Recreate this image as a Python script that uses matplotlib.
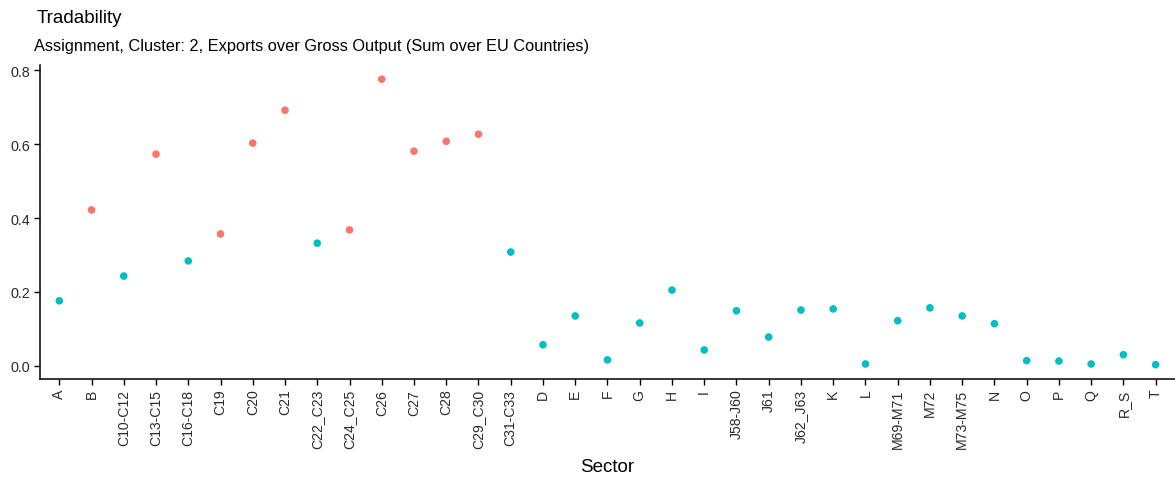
import matplotlib
matplotlib.use("Agg")
import matplotlib.pyplot as plt

plt.rcParams['font.family'] = ['Liberation Sans', 'DejaVu Sans']

sectors = ["A", "B", "C10-C12", "C13-C15", "C16-C18", "C19", "C20", "C21",
           "C22_C23", "C24_C25", "C26", "C27", "C28", "C29_C30", "C31-C33",
           "D", "E", "F", "G", "H", "I", "J58-J60", "J61", "J62_J63", "K", "L",
           "M69-M71", "M72", "M73-M75", "N", "O", "P", "Q", "R_S", "T"]
tradability = [0.176, 0.422, 0.243, 0.573, 0.284, 0.357, 0.603, 0.692,
               0.332, 0.368, 0.776, 0.581, 0.608, 0.627, 0.308,
               0.057, 0.135, 0.016, 0.116, 0.205, 0.043, 0.149, 0.078, 0.151,
               0.154, 0.005, 0.122, 0.157, 0.135, 0.114, 0.014, 0.013, 0.005,
               0.030, 0.003]
cluster = [2, 1, 2, 1, 2, 1, 1, 1, 2, 1, 1, 1, 1, 1, 2,
           2, 2, 2, 2, 2, 2, 2, 2, 2, 2, 2, 2, 2, 2, 2, 2, 2, 2, 2, 2]
cluster_colors = {1: "#F8766D", 2: "#00BFC4"}

fig = plt.figure(figsize=(11.75, 4.81), dpi=100)
ax = fig.add_axes([0.034, 0.21, 0.966, 0.653])

x = list(range(len(sectors)))
ax.scatter(x, tradability, c=[cluster_colors[c] for c in cluster], s=30,
           linewidths=0, zorder=3)

ax.set_xlim(-0.6, len(sectors) - 1 + 0.6)
span = max(tradability) - min(tradability)
ax.set_ylim(min(tradability) - 0.05 * span, max(tradability) + 0.05 * span)
ax.set_xticks(x)
ax.set_xticklabels(sectors, rotation=90, fontsize=10.1, color="#2b2b2b")
ax.set_yticks([0.0, 0.2, 0.4, 0.6, 0.8])
ax.set_yticklabels(["0.0", "0.2", "0.4", "0.6", "0.8"], fontsize=10.4, color="#2b2b2b")
ax.tick_params(axis="both", length=4, width=1, color="black", pad=3)

for side in ("top", "right"):
    ax.spines[side].set_visible(False)
for side in ("left", "bottom"):
    ax.spines[side].set_linewidth(1.1)
    ax.spines[side].set_color("black")

ax.set_xlabel("Sector", fontsize=13.5, labelpad=7)

fig.text(0.031, 0.962, "Tradability", fontsize=13.5, ha="left", va="center")
fig.text(0.029, 0.903, "Assignment, Cluster: 2, Exports over Gross Output (Sum over EU Countries)",
         fontsize=11.8, ha="left", va="center")

fig.savefig("out.png", dpi=100)
